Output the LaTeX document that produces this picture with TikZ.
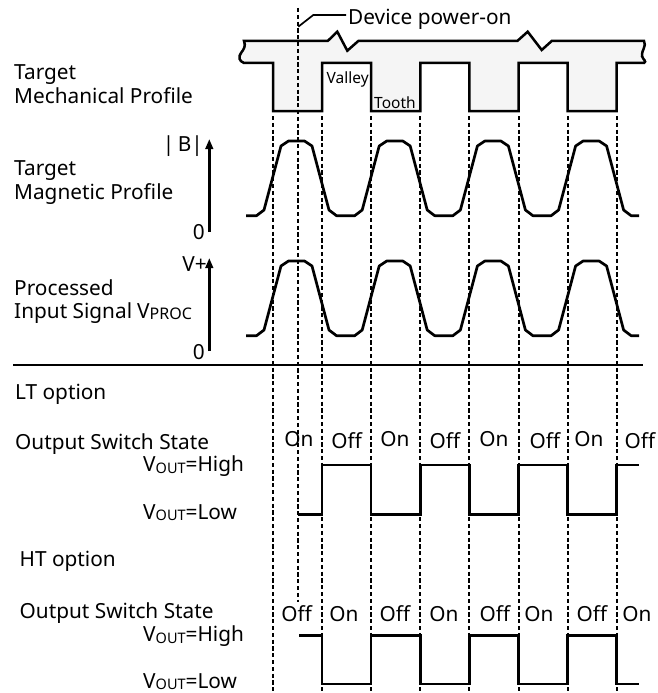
\documentclass[tikz,border=0pt]{standalone}
\usepackage{fontspec}
\setmainfont{Noto Sans}
\usetikzlibrary{arrows.meta}
\newcommand{\mysub}[1]{\raisebox{-1.5pt}{\fontsize{14.5}{16}\selectfont #1}}
\newcommand{\mysubw}[1]{\raisebox{-1pt}{\fontsize{16}{16}\selectfont #1}}
\newcommand{\mywave}[2]{%
  \draw[wave] (246,#2) foreach \c in {296.5,394.7,492.9,591.1}{
    -- ({\c-40},#2) -- ({\c-32.5},#2-5.7) -- ({\c-15.5},#1+5) -- ({\c-8},#1)
    -- ({\c+8},#1) -- ({\c+15.5},#1+5) -- ({\c+32.5},#2-5.7) -- ({\c+40},#2)} -- (639,#2);}
\begin{document}
\begin{tikzpicture}[x=1pt,y=-1pt,
  font=\fontsize{20.8}{24}\selectfont,
  wave/.style={line width=2.7pt, line join=round},
  sqw/.style={line width=2.5pt, line join=miter},
  guide/.style={line width=2pt, dash pattern=on 4.2pt off 2.6pt},
  mech/.style={line width=2.5pt, fill=black!4, line join=miter},
  axis/.style={line width=2.6pt, -{Triangle[width=7.5pt,length=10pt]}},
  lbl/.style={anchor=base west, inner sep=0pt},
  rlbl/.style={anchor=base east, inner sep=0pt},
  st/.style={anchor=base, inner sep=0pt},
  small/.style={font=\fontsize{15.5}{18}\selectfont}]
\useasboundingbox (0,0) rectangle (657,693);

% mechanical profile
\filldraw[mech] (244,41) -- (327.7,41) -- (337.3,31.7) -- (347.3,50.7) -- (358.3,41)
  -- (517.3,41) -- (527.7,31.7) -- (541.7,50) -- (551.7,41) -- (644,41)
  .. controls (647,46) and (641,51) .. (642,56) .. controls (643,60) and (647,61) .. (644,63)
  -- (616.7,63) -- (616.7,111) -- (567.6,111) -- (567.6,63) -- (518.5,63) -- (518.5,111)
  -- (469.4,111) -- (469.4,63) -- (420.3,63) -- (420.3,111) -- (371.2,111) -- (371.2,63)
  -- (322.1,63) -- (322.1,111) -- (273,111) -- (273,63) -- (244,63)
  .. controls (239,61) and (238,57) .. (241,53) .. controls (244,49) and (246,46) .. (244,41) -- cycle;
\node[small, lbl] (valley) at (326.5,83.3) {Valley};
\node[small, lbl] (tooth) at (374,108.3) {Tooth};

% guide lines
\foreach \x in {273,322.1,371.2,420.3,469.4,518.5,567.6,616.7}
  \draw[guide] (\x,116) -- (\x,693);
\draw[guide] (298.3,8) -- (298.3,602);

% power-on label
\node[lbl] (pw) at (348,25) {Device power-on};
\coordinate (pwA) at (298.3,26.7);
\draw[line width=1.7pt] (pwA) -- (313.3,15) -- ([xshift=-2pt,yshift=10pt]pw.base west);

% left labels
\node[lbl] (t1) at (14,79) {Target};
\node[lbl] (t2) at (14,103.3) {Mechanical Profile};
\node[lbl] (t3) at (14,175) {Target};
\node[lbl] (t4) at (14,199.3) {Magnetic Profile};
\node[lbl] (t5) at (14,295) {Processed};
\node[lbl] (t6) at (14,318.3) {Input Signal};
\node[lbl] (vproc) at (137,318.3) {V\mysubw{PROC}};

% axes
\node[rlbl] (bl) at (203,151) {|\,B|};
\node[rlbl] (z1) at (205,239) {0};
\node[rlbl] (vp) at (207,271.7) {V+};
\node[rlbl] (z2) at (205,359) {0};
\coordinate (a1b) at (209.3,232);
\coordinate (a1t) at (209.3,139);
\coordinate (a2b) at (209.3,351);
\coordinate (a2t) at (209.3,258);
\draw[axis] (a1b) -- (a1t);
\draw[axis] (a2b) -- (a2t);

% waveforms
\mywave{141}{215.7}
\mywave{261}{335.7}

% separator
\coordinate (sepL) at (13,365);
\coordinate (sepR) at (643,365);
\draw[line width=1.4pt] (sepL) -- (sepR);

% LT option
\node[lbl] (lt) at (15,399) {LT option};
\node[lbl] (lts) at (15,449.3) {Output Switch State};
\node[lbl] (lth) at (143,471.7) {V\mysub{OUT}=High};
\node[lbl] (ltl) at (143,519.3) {V\mysub{OUT}=Low};
\foreach \x/\t/\y [count=\i] in {299/On/446.5,346.7/Off/448,395/On/446.5,445/Off/448,494/On/446.5,545/Off/448,589/On/446.5,640/Off/448}
  \node[st] (ls\i) at (\x,\y) {\t};
\draw[sqw] (298.3,514.3) -- (322.1,514.3) -- (322.1,465) -- (371.2,465) -- (371.2,514.3)
  -- (420.3,514.3) -- (420.3,465) -- (469.4,465) -- (469.4,514.3) -- (518.5,514.3)
  -- (518.5,465) -- (567.6,465) -- (567.6,514.3) -- (616.7,514.3) -- (616.7,465) -- (639,465);

% HT option
\node[lbl] (ht) at (19.5,566.7) {HT option};
\node[lbl] (hts) at (19.5,618.3) {Output Switch State};
\node[lbl] (hth) at (143,641.7) {V\mysub{OUT}=High};
\node[lbl] (htl) at (143,688) {V\mysub{OUT}=Low};
\foreach \x/\t [count=\i] in {296.7/Off,344/On,395/Off,444/On,495/Off,539/On,592/Off,637/On}
  \node[st] (hs\i) at (\x,621.5) {\t};
\draw[sqw] (299.3,635.7) -- (322.1,635.7) -- (322.1,684) -- (371.2,684) -- (371.2,635.7)
  -- (420.3,635.7) -- (420.3,684) -- (469.4,684) -- (469.4,635.7) -- (518.5,635.7)
  -- (518.5,684) -- (567.6,684) -- (567.6,635.7) -- (616.7,635.7) -- (616.7,684) -- (639,684);
\end{tikzpicture}
\end{document}
